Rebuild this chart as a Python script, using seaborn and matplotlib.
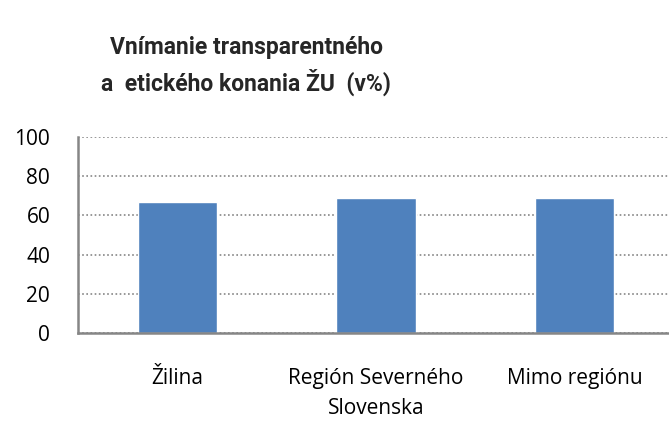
import matplotlib
matplotlib.use("Agg")
import matplotlib.pyplot as plt
import seaborn as sns
import pandas as pd

categories = ["Žilina", "Región Severného\nSlovenska", "Mimo regiónu"]
values = [67, 69, 69]
yticks = [0, 20, 40, 60, 80, 100]

sns.set_style("white")
plt.rcParams['font.family'] = ['Open Sans', 'DejaVu Sans']

df = pd.DataFrame({"kategoria": categories, "hodnota": values})

fig = plt.figure(figsize=(6.69, 4.23), dpi=100)
ax = fig.add_axes([78 / 669, 90 / 423, 596 / 669, 196 / 423])
sns.barplot(data=df, x="kategoria", y="hodnota", color="#4f81bd",
            saturation=1, width=0.4, ax=ax)

ax.set_ylim(0, 100)
ax.set_xlim(-0.5, 2.5)
ax.set_yticks(yticks)
ax.set_xlabel("")
ax.set_ylabel("")
ax.tick_params(axis="both", length=0, labelsize=15, colors="black")
ax.tick_params(axis="y", pad=20)
ax.tick_params(axis="x", pad=25)
for lbl in ax.get_xticklabels():
    lbl.set_linespacing(1.55)
ax.yaxis.grid(True, linestyle=(0, (1, 1.5)), color="#868686", linewidth=1.2)
ax.set_axisbelow(True)
for s in ["top", "right"]:
    ax.spines[s].set_visible(False)
for s in ["left", "bottom"]:
    ax.spines[s].set_color("#868686")
    ax.spines[s].set_linewidth(1.8)

fig.text(246 / 669, 1 - 66 / 423, "Vnímanie transparentného\na  etického konania ŽU  (v%)",
         ha="center", va="center", fontsize=16.5, fontweight="bold",
         family=["Roboto", "DejaVu Sans"], linespacing=1.4)

fig.savefig("out.png", dpi=100)
